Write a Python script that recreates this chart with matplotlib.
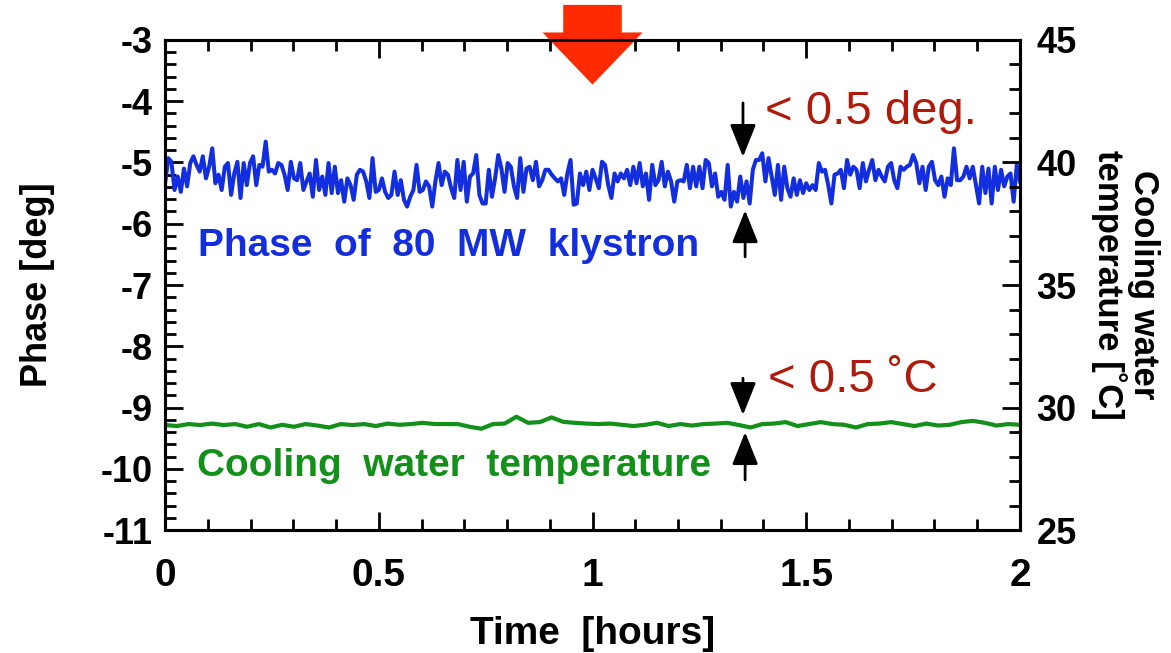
import matplotlib
matplotlib.use("Agg")
import matplotlib.pyplot as plt
import numpy as np
from matplotlib.patches import FancyArrow
from matplotlib.ticker import MultipleLocator

plt.rcParams['font.family'] = ['Liberation Sans', 'DejaVu Sans']
plt.rcParams['axes.unicode_minus'] = False

# klystron phase [deg], sampled evenly over the 2 h run
phase = [
    -5.34, -4.93, -4.99, -5.45, -5.23, -5.48, -5.10, -5.39, -5.01, -4.90,
    -5.04, -5.15, -4.90, -5.26, -5.07, -4.77, -5.34, -5.20, -5.45, -5.07,
    -5.01, -5.53, -5.18, -4.99, -5.58, -5.01, -5.37, -5.01, -4.90, -5.37,
    -5.04, -5.07, -4.66, -5.15, -5.12, -5.18, -5.01, -5.04, -5.20, -5.45,
    -4.99, -5.26, -5.29, -5.01, -5.45, -5.31, -5.18, -5.56, -4.96, -5.45,
    -5.23, -5.53, -5.01, -5.50, -5.07, -5.50, -5.29, -5.64, -5.26, -5.37,
    -5.61, -5.20, -5.12,
    -5.15, -5.31, -5.58, -4.93, -5.48, -5.45, -5.26, -5.48, -5.58, -5.53,
    -5.15, -5.53, -5.29, -5.61, -5.72, -5.56, -5.45, -5.04, -5.48, -5.45,
    -5.31, -5.39, -5.72, -5.31, -5.01, -5.37, -5.15, -5.20, -5.42, -5.58,
    -4.96, -5.45, -4.99, -5.64, -5.23, -5.18, -4.88, -5.53, -5.67, -5.67,
    -5.12, -5.56, -5.26, -4.88, -5.10, -5.48, -5.01, -5.07, -5.39, -5.58,
    -4.93, -5.48, -5.10, -5.07, -5.29, -4.99, -5.39, -5.29, -5.12, -5.12,
    -5.20, -5.26, -5.31, -5.26, -5.53, -5.18, -4.96, -5.69,
    -5.67, -5.18, -5.37, -5.15, -5.45, -5.12, -5.26, -5.42, -4.99, -5.04,
    -5.37, -5.58, -5.18, -5.31, -5.18, -5.26, -5.12, -5.37, -5.07, -5.34,
    -5.01, -5.39, -5.18, -5.61, -5.04, -5.37, -5.29, -4.99, -5.39, -5.15,
    -5.31, -5.64, -5.31, -5.29, -5.31, -5.04, -5.42, -5.07, -5.39, -5.07,
    -5.42, -4.96, -5.01, -5.39, -5.18, -5.56, -5.48, -5.61, -5.04, -5.72,
    -5.48, -5.64, -5.23, -5.58, -5.31, -5.67, -5.12, -4.96, -4.96, -4.85,
    -5.31, -4.93, -5.23, -5.53, -5.04, -5.61, -5.07, -5.42, -5.56, -5.26,
    -5.53, -5.29,
    -5.50, -5.34, -5.45, -5.37, -5.45, -5.01, -5.15, -5.12, -5.37, -5.67,
    -5.20, -5.18, -5.12, -5.42, -4.96, -5.20, -5.07, -5.12, -5.42, -5.01,
    -5.31, -5.12, -4.96, -5.29, -5.12, -5.23, -5.31, -5.07, -5.01, -5.29,
    -5.42, -5.07, -5.12, -5.07, -5.04, -4.88, -5.01, -5.34, -5.07, -5.45,
    -5.07, -4.99, -5.29, -5.37, -5.23, -5.56, -5.26, -5.37, -4.77, -5.29,
    -5.29, -5.23, -5.07, -5.26, -5.07, -5.37, -5.67, -5.07, -5.50, -5.10,
    -5.67, -5.07, -5.45, -5.12, -5.39, -5.23, -5.18, -5.64, -5.04, -5.31,
]

# cooling water temperature [deg C]
water_temp = [
    29.29, 29.25, 29.33, 29.29, 29.35, 29.29, 29.33, 29.22, 29.33, 29.19,
    29.30, 29.22, 29.33, 29.27, 29.19, 29.33, 29.29, 29.33, 29.25, 29.35,
    29.30, 29.33, 29.38, 29.33, 29.33, 29.33, 29.22, 29.14, 29.33, 29.35,
    29.63, 29.38, 29.41, 29.60, 29.42, 29.38, 29.35,
    29.33, 29.35, 29.30, 29.25, 29.30, 29.38, 29.25, 29.33, 29.27, 29.33,
    29.35, 29.38, 29.29, 29.19, 29.33, 29.35, 29.41, 29.25, 29.33, 29.41,
    29.33, 29.30, 29.19, 29.33, 29.35, 29.41, 29.33, 29.25, 29.35, 29.27,
    29.30, 29.41, 29.46, 29.38, 29.27, 29.33, 29.30,
]

t_phase = np.linspace(0, 2, len(phase))
t_water = np.linspace(0, 2, len(water_temp))

BLUE = "#122ede"
GREEN = "#12901a"
RED_TXT = "#b01a0a"

fig = plt.figure(figsize=(11.71, 6.53), dpi=100)
ax = fig.add_axes([0.141, 0.188, 0.730, 0.751])
ax2 = ax.twinx()

ax.plot(t_phase, phase, color=BLUE, lw=2.9)
ax2.plot(t_water, water_temp, color=GREEN, lw=3.0)

ax.set_xlim(0, 2)
ax.set_ylim(-11, -3)
ax2.set_ylim(25, 45)

ax.xaxis.set_major_locator(MultipleLocator(0.5))
ax.xaxis.set_minor_locator(MultipleLocator(0.1))
ax.yaxis.set_major_locator(MultipleLocator(1))
ax.yaxis.set_minor_locator(MultipleLocator(0.2))
ax2.yaxis.set_major_locator(MultipleLocator(5))
ax2.yaxis.set_minor_locator(MultipleLocator(1))
ax.set_xticks([0, 0.5, 1, 1.5, 2], ["0", "0.5", "1", "1.5", "2"])

for a in (ax, ax2):
    for s in a.spines.values():
        s.set_linewidth(2.2)
ax.tick_params(which="both", direction="in", top=True, width=2.0)
ax.tick_params(which="major", length=13)
ax.tick_params(which="minor", length=8)
ax.tick_params(axis="y", labelsize=26, pad=9)
ax.tick_params(axis="x", labelsize=28, pad=20)
ax2.tick_params(which="both", direction="in", width=2.0, labelsize=26, pad=12)
ax2.tick_params(which="major", length=13)
ax2.tick_params(which="minor", length=8)
for lab in ax.get_xticklabels() + ax.get_yticklabels() + ax2.get_yticklabels():
    lab.set_fontweight("bold")

ax.set_xlabel("Time  [hours]", fontsize=28, fontweight="bold", labelpad=16)
ax.set_ylabel("Phase [deg]", fontsize=26, fontweight="bold", labelpad=33)
ax2.set_ylabel("Cooling water\ntemperature [˚C]", fontsize=25,
               fontweight="bold", rotation=270, labelpad=60,
               linespacing=1.0)

# series labels
ax.text(0.077, -6.53, "Phase  of  80  MW  klystron", color=BLUE,
        fontsize=28, fontweight="bold", va="baseline")
ax.text(0.075, -10.12, "Cooling  water  temperature", color=GREEN,
        fontsize=28, fontweight="bold", va="baseline")

# fluctuation markers
arrow_kw = dict(arrowstyle="-|>,head_length=2.0,head_width=0.8",
                mutation_scale=10, color="black", lw=2,
                shrinkA=0, shrinkB=0)
ax.annotate("", xy=(1.352, -4.91), xytext=(1.352, -4.03), arrowprops=arrow_kw)
ax.annotate("", xy=(1.357, -5.78), xytext=(1.357, -6.54), arrowprops=arrow_kw)
ax.annotate("", xy=(1.352, -9.12), xytext=(1.352, -8.52), arrowprops=arrow_kw)
ax.annotate("", xy=(1.357, -9.40), xytext=(1.357, -10.18), arrowprops=arrow_kw)

ax.text(1.404, -4.37, "< 0.5 deg.", color=RED_TXT, fontsize=34,
        va="baseline")
ax.text(1.411, -8.75, "< 0.5 ˚C", color=RED_TXT, fontsize=34,
        va="baseline")

# event marker above the frame
marker = FancyArrow(1.0, -2.43, 0, -1.30, width=0.137, head_width=0.234,
                    head_length=0.85, length_includes_head=True,
                    color="#ff2a00", lw=0, clip_on=False, zorder=5)
ax.add_patch(marker)

fig.savefig("out.png", dpi=100)
